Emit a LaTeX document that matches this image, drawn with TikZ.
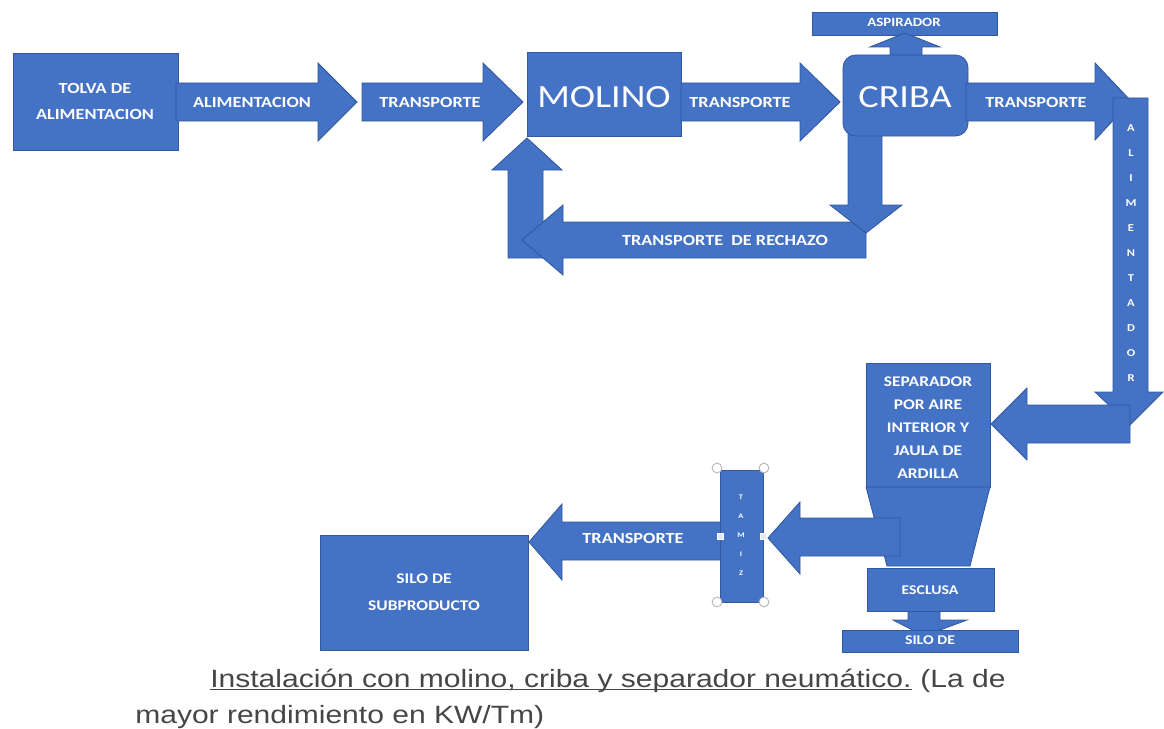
\documentclass[tikz,border=0pt]{standalone}
\usepackage{fontspec}
\setmainfont[FakeStretch=1.2]{Liberation Sans}
\newfontfamily\calibri[FakeStretch=1.18]{Carlito}
\definecolor{azul}{RGB}{68,114,196}
\definecolor{azulborde}{RGB}{50,88,160}
\definecolor{textogris}{RGB}{70,70,70}
\tikzset{
  bloque/.style={fill=azul, draw=azulborde, line width=0.6pt},
  rotulo/.style={text=white, font=\calibri\bfseries\fontsize{11}{13}\selectfont, inner sep=0pt, align=center},
  rotulogrande/.style={text=white, font=\calibri\fontsize{23}{25}\selectfont, inner sep=0pt},
  letra/.style={text=white, font=\calibri\bfseries\fontsize{7.5}{8}\selectfont, inner sep=0pt},
  asa/.style={circle, fill=white, draw=gray!60, line width=0.6pt, minimum size=7pt, inner sep=0pt},
  asacuadro/.style={fill=white!85!azul, draw=white, minimum size=4pt, inner sep=0pt},
  pie/.style={anchor=base west, inner sep=0pt, text=textogris, font=\fontsize{17.8}{20}\selectfont},
}

\begin{document}
\begin{tikzpicture}[x=0.025cm, y=-0.025cm]
  \useasboundingbox (0,0) rectangle (1164,729);

  % Tolva y linea superior
  \filldraw[bloque] (13,53) rectangle (178,150);
  \node[rotulo, font=\calibri\bfseries\fontsize{11}{18.5}\selectfont] (tolva) at (95,101) {TOLVA DE\\ALIMENTACION};

  \filldraw[bloque] (176,83) -- (318,83) -- (318,63) -- (357,102) -- (318,141) -- (318,121) -- (176,121) -- cycle;
  \node[rotulo] (alim) at (252,102) {ALIMENTACION};

  \filldraw[bloque] (362,83) -- (483,83) -- (483,63) -- (523,102) -- (483,141) -- (483,121) -- (362,121) -- cycle;
  \node[rotulo] (trans1) at (430,102) {TRANSPORTE};

  % Lazo de rechazo
  \filldraw[bloque] (508,258) -- (508,170) -- (492,170) -- (527,138) -- (562,170) -- (543,170) -- (543,258) -- cycle;
  \filldraw[bloque] (866,222) -- (563,222) -- (563,205) -- (522,240) -- (563,275) -- (563,258) -- (866,258) -- cycle;
  \filldraw[bloque] (848,130) -- (882,130) -- (882,205) -- (902,205) -- (866,233) -- (830,205) -- (848,205) -- cycle;
  \node[rotulo] (rechazo) at (725,240) {TRANSPORTE~~DE RECHAZO};

  \filldraw[bloque] (527,52) rectangle (681,136);
  \node[rotulogrande] (molino) at (604,97) {MOLINO};

  \filldraw[bloque] (681,83) -- (800,83) -- (800,63) -- (840,102) -- (800,141) -- (800,121) -- (681,121) -- cycle;
  \node[rotulo] (trans2) at (740,102) {TRANSPORTE};

  % Criba y aspirador
  \filldraw[bloque] (812,12) rectangle (997,35);
  \node[rotulo, font=\calibri\bfseries\fontsize{9}{10}\selectfont] (aspirador) at (904,22) {ASPIRADOR};
  \filldraw[bloque] (890,62) -- (890,47) -- (870,47) -- (905,33) -- (940,47) -- (922,47) -- (922,62) -- cycle;
  \filldraw[bloque, rounded corners=9pt] (843,55) rectangle (968,136);
  \node[rotulogrande] (criba) at (905,97) {CRIBA};

  \filldraw[bloque] (966,83) -- (1095,83) -- (1095,63) -- (1131,101) -- (1095,140) -- (1095,121) -- (966,121) -- cycle;
  \node[rotulo] (trans3) at (1036,102) {TRANSPORTE};

  % Alimentador vertical
  \filldraw[bloque] (1113,98) -- (1148,98) -- (1148,392) -- (1163,392) -- (1130,425) -- (1095,392) -- (1113,392) -- cycle;
  \foreach \c [count=\i] in {A,L,I,M,E,N,T,A,D,O,R}
    \node[letra] (alimentador\i) at (1131,103+25*\i) {\c};

  \filldraw[bloque] (1130,405) -- (1027,405) -- (1027,388) -- (991,424) -- (1027,460) -- (1027,443) -- (1130,443) -- cycle;

  % Separador
  \filldraw[bloque] (866,363) rectangle (990,487);
  \filldraw[bloque] (866,487) -- (990,487) -- (970,566) -- (887,566) -- cycle;
  \node[rotulo, font=\calibri\bfseries\fontsize{10.5}{16.4}\selectfont] (separador) at (928,428)
    {SEPARADOR\\POR AIRE\\INTERIOR Y\\JAULA DE\\ARDILLA};

  \filldraw[bloque] (900,518) -- (800,518) -- (800,502) -- (768,538) -- (800,574) -- (800,556) -- (900,556) -- cycle;

  % Esclusa y silo
  \filldraw[bloque] (908,605) -- (940,605) -- (940,620) -- (967,620) -- (924,636) -- (893,620) -- (908,620) -- cycle;
  \filldraw[bloque] (867,568) rectangle (994,611);
  \node[rotulo, font=\calibri\bfseries\fontsize{9.5}{10}\selectfont] (esclusa) at (930,590) {ESCLUSA};
  \filldraw[bloque] (842,630) rectangle (1018,652);
  \node[rotulo, font=\calibri\bfseries\fontsize{9.5}{10}\selectfont] (silo) at (930,640) {SILO DE};

  % Transporte al silo de subproducto
  \filldraw[bloque] (722,522) -- (562,522) -- (562,504) -- (529,542) -- (562,580) -- (562,560) -- (722,560) -- cycle;
  \node[rotulo] (trans4) at (633,538) {TRANSPORTE};

  \filldraw[bloque] (720,470) rectangle (763,602);
  \foreach \c [count=\i] in {T,A,M,I,Z}
    \node[letra, font=\calibri\bfseries\fontsize{5}{6}\selectfont] (caja\i) at (741,478+19*\i) {\c};
  \node[asa] (asa1) at (717,468) {};
  \node[asa] (asa2) at (764,468) {};
  \node[asa] (asa3) at (717,602) {};
  \node[asa] (asa4) at (764,602) {};
  \node[asacuadro] (asa5) at (720,536) {};
  \node[asacuadro] (asa6) at (763,536) {};

  \filldraw[bloque] (320,535) rectangle (528,650);
  \node[rotulo, font=\calibri\bfseries\fontsize{10.5}{19}\selectfont] (subproducto) at (424,592) {SILO DE\\SUBPRODUCTO};

  % Pie de figura
  \node[pie] (pie1) at (210,687) {Instalación con molino, criba y separador neumático.};
  \node[pie] (pie2) at (pie1.base east) {\ (La de};
  \node[pie] (pie3) at (135,723) {mayor rendimiento en KW/Tm)};
  \draw[textogris, line width=0.7pt] ([yshift=-2pt]pie1.base west) -- ([yshift=-2pt]pie1.base east);
\end{tikzpicture}
\end{document}
